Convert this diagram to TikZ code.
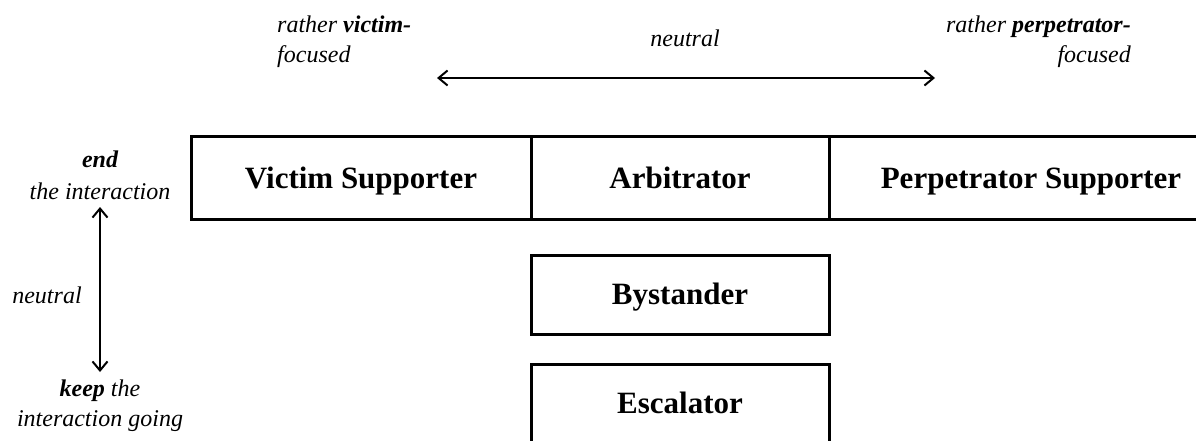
\documentclass[tikz,border=0pt]{standalone}
\usepackage{fontspec}
\setmainfont{Liberation Serif}
\usetikzlibrary{positioning,arrows.meta}

\begin{document}
\begin{tikzpicture}[x=1pt,y=-1pt,
            role/.style={draw, line width=3pt, outer sep=0pt, inner sep=0pt,
              font=\bfseries\fontsize{31}{37}\selectfont,
              text height=20.5pt, text depth=0pt},
            top role/.style={role, minimum height=82pt},
            low role/.style={role, minimum width=298pt, minimum height=79pt},
            note/.style={inner sep=0pt, font=\itshape\fontsize{24}{30}\selectfont},
            axis/.style={line width=2pt,
              {Straight Barb[length=9pt,width=15pt]}-{Straight Barb[length=9pt,width=15pt]}}]
            \useasboundingbox (0,0) rectangle (1196,441);
            \clip (0,0) rectangle (1196,441);
            % roles
            \node[top role, minimum width=340pt] (victim) at (361,178) {Victim Supporter};
            \node[top role, minimum width=298pt, right=0pt of victim] (arbitrator) {Arbitrator};
            \node[top role, minimum width=404pt, right=0pt of arbitrator] (perpetrator) {Perpetrator Supporter};
            \node[low role, below=36pt of arbitrator] (bystander) {Bystander};
            \node[low role, below=30pt of bystander] (escalator) {Escalator};
            % focus axis
            \node[note, align=left, anchor=north west] (victimfocus) at (277,16)
              {rather \textbf{victim-}\\focused};
            \node[note, align=right, anchor=north east] (perpfocus) at (1131,16)
              {rather \textbf{perpetrator-}\\focused};
            \node[note, anchor=base] (focusneutral) at (685,47) {neutral};
            \coordinate (focusleft) at (437,78);
            \coordinate (focusright) at (935,78);
            \draw[axis] (focusleft) -- (focusright);
            % interaction axis
            \node[note, align=center, anchor=north, font=\itshape\fontsize{24}{32}\selectfont]
              (endnote) at (100,151) {\textbf{end}\\the interaction};
            \node[note, align=center, anchor=north] (keepnote) at (100,380)
              {\textbf{keep} the\\interaction going};
            \node[note, anchor=base] (actneutral) at (47,303) {neutral};
            \coordinate (actup) at (100,207);
            \coordinate (actdown) at (100,372);
            \draw[axis] (actup) -- (actdown);
\end{tikzpicture}
\end{document}
